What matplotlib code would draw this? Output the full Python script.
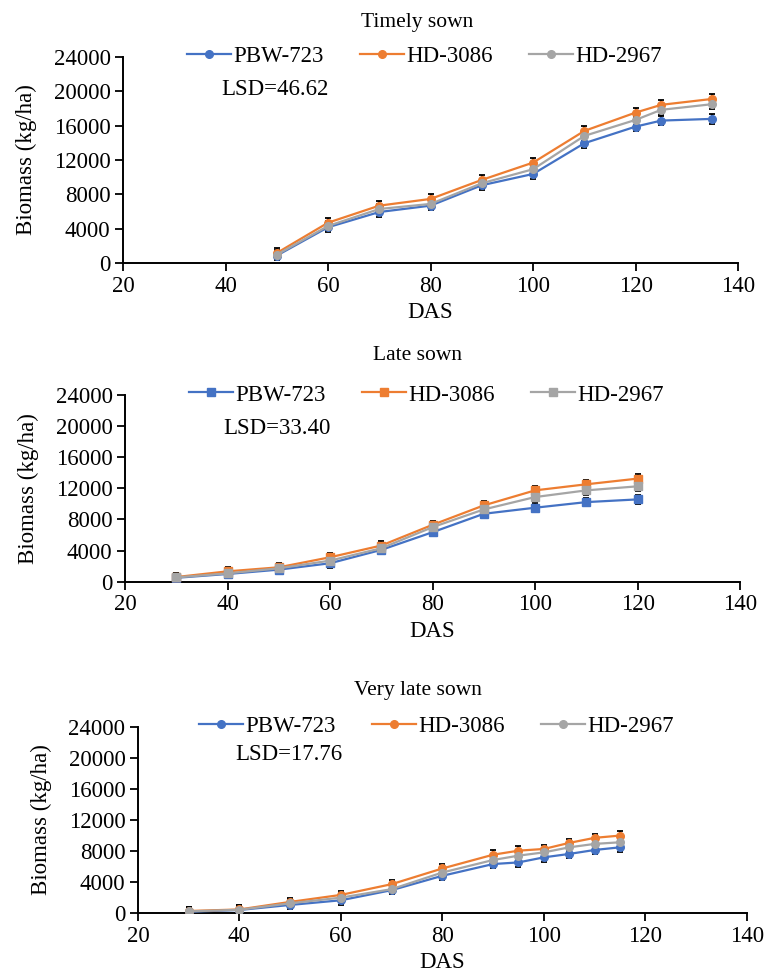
import matplotlib.pyplot as plt
import numpy as np

plt.rcParams['font.family'] = ['Liberation Serif', 'DejaVu Serif']

varieties = ['PBW-723', 'HD-3086', 'HD-2967']
colors = ['#4472C4', '#ED7D31', '#A5A5A5']

# Timely sown
das_timely = [50, 60, 70, 80, 90, 100, 110, 120, 125, 135]
pbw_timely = [900, 4190, 5960, 6700, 9070, 10380, 13950, 15880, 16580, 16780]
hd3086_timely = [1200, 4720, 6700, 7480, 9690, 11700, 15380, 17510, 18410, 19100]
hd2967_timely = [1000, 4340, 6310, 6900, 9300, 10930, 14800, 16660, 17830, 18490]

# Late sown
das_late = [30, 40, 50, 60, 70, 80, 90, 100, 110, 120]
pbw_late = [500, 990, 1550, 2370, 4090, 6360, 8730, 9510, 10230, 10580]
hd3086_late = [600, 1330, 1850, 3140, 4650, 7310, 9810, 11740, 12520, 13250]
hd2967_late = [550, 1070, 1720, 2710, 4300, 7010, 9290, 10880, 11740, 12260]

# Very late sown
das_vlate = [30, 40, 50, 60, 70, 80, 90, 95, 100, 105, 110, 115]
pbw_vlate = [200, 430, 1080, 1680, 2980, 4830, 6340, 6550, 7200, 7640, 8150, 8490]
hd3086_vlate = [300, 500, 1470, 2370, 3750, 5770, 7540, 8060, 8280, 9060, 9710, 10000]
hd2967_vlate = [250, 460, 1290, 2020, 3110, 5250, 6860, 7420, 7840, 8490, 8930, 9140]

titles = ['Timely sown', 'Late sown', 'Very late sown']
lsd_labels = ['LSD=46.62', 'LSD=33.40', 'LSD=17.76']
err_sizes = [550, 550, 550]

panels = [
    (das_timely, [pbw_timely, hd3086_timely, hd2967_timely]),
    (das_late, [pbw_late, hd3086_late, hd2967_late]),
    (das_vlate, [pbw_vlate, hd3086_vlate, hd2967_vlate]),
]

# axes rectangles in figure fraction (left, bottom, width, height)
rects = [
    [0.1606, 0.7302, 0.803, 0.2117],
    [0.1632, 0.4040, 0.803, 0.1913],
    [0.1800, 0.0642, 0.795, 0.1912],
]
title_y = [0.977, 0.636, 0.293]
lsd_y = [0.84, 0.82, 0.85]
marker_styles = ['o', 's', 'o']
fs = 16.5

fig = plt.figure(figsize=(7.66, 9.76), dpi=100)

for i, (das, series) in enumerate(panels):
    ax = fig.add_axes(rects[i])
    for name, vals, c in zip(varieties, series, colors):
        ax.errorbar(das, vals, yerr=err_sizes[i], color=c, ecolor='black',
                    elinewidth=1.3, capsize=2.5, capthick=1.3,
                    marker=marker_styles[i], markersize=5.5, linewidth=1.6,
                    label=name, zorder=3)
    ax.set_xlim(20, 140)
    ax.set_ylim(0, 24000)
    ax.set_xticks(np.arange(20, 141, 20))
    ax.set_yticks(np.arange(0, 24001, 4000))
    ax.tick_params(labelsize=fs, direction='out', length=6, width=1.3, pad=3)
    for s in ['top', 'right']:
        ax.spines[s].set_visible(False)
    for s in ['left', 'bottom']:
        ax.spines[s].set_linewidth(1.4)
    ax.set_xlabel('DAS', fontsize=fs, labelpad=4)
    ax.set_ylabel('Biomass (kg/ha)', fontsize=fs, labelpad=12)
    handles, labels = ax.get_legend_handles_labels()
    handles = [h[0] for h in handles]
    ax.legend(handles, labels, loc='center', bbox_to_anchor=(0.49, 1.0),
              ncol=3, frameon=False, fontsize=fs, handlelength=1.9,
              handletextpad=0.1, columnspacing=1.6, borderaxespad=0)
    ax.text(0.16, lsd_y[i], lsd_labels[i], transform=ax.transAxes,
            fontsize=fs, va='center', ha='left')
    fig.text(0.545, title_y[i], titles[i], fontsize=15.5, ha='center', va='center')

fig.savefig('out.png', dpi=100)
